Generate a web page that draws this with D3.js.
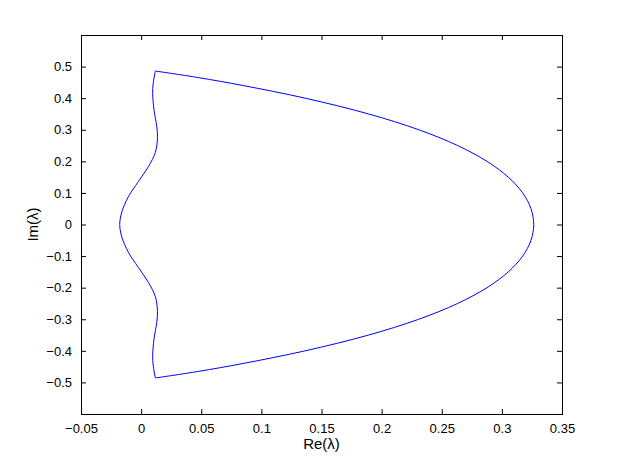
<!DOCTYPE html>
<meta charset="utf-8">
<style>
    html, body { margin: 0; background: #fff; }
    text { font-family: "Liberation Sans", Arial, sans-serif; fill: #000; }
    .tick text { font-size: 13px; }
    .lbl { font-size: 15px; }
    .curve { fill: none; stroke: #0000ff; stroke-width: 1px; }
</style>
<body>
<script src="https://d3js.org/d3.v7.min.js"></script>
<script>
    // right branch: top corner -> rightmost point -> bottom corner
    var rightRe = [0.0118, 0.0478, 0.0848, 0.1364, 0.1892, 0.2309, 0.2632, 0.2876, 0.3053, 0.3173, 0.3242, 0.3265,
                   0.3242, 0.3173, 0.3053, 0.2876, 0.2632, 0.2309, 0.1892, 0.1364, 0.0848, 0.0478, 0.0118];
    var rightIm = [0.486, 0.465, 0.44, 0.40, 0.35, 0.30, 0.25, 0.20, 0.15, 0.10, 0.05, 0,
                   -0.05, -0.10, -0.15, -0.20, -0.25, -0.30, -0.35, -0.40, -0.44, -0.465, -0.486];
    // left branch: bottom corner -> leftmost point -> top corner
    var leftRe = [0.0118, 0.0100, 0.0096, 0.0107, 0.0130, 0.0136, 0.0118, 0.0060, -0.0023, -0.0106, -0.0160, -0.0178,
                  -0.0160, -0.0106, -0.0023, 0.0060, 0.0118, 0.0136, 0.0130, 0.0107, 0.0096, 0.0100, 0.0118];
    var leftIm = [-0.486, -0.445, -0.415, -0.363, -0.310, -0.275, -0.228, -0.183, -0.136, -0.088, -0.040, 0,
                  0.040, 0.088, 0.136, 0.183, 0.228, 0.275, 0.310, 0.363, 0.415, 0.445, 0.486];

    var xTicks = [-0.05, 0, 0.05, 0.1, 0.15, 0.2, 0.25, 0.3, 0.35];
    var yTicks = [-0.5, -0.4, -0.3, -0.2, -0.1, 0, 0.1, 0.2, 0.3, 0.4, 0.5];

    var width = 622, height = 468;
    var mLeft = 81, mRight = 562, mTop = 35, mBottom = 414;

    var x = d3.scaleLinear().domain([-0.05, 0.35]).range([mLeft, mRight]);
    var y = d3.scaleLinear().domain([-0.6, 0.6]).range([mBottom, mTop]);

    var svg = d3.select("body").append("svg")
        .attr("width", width)
        .attr("height", height);

    var fmt = function (d) { return String(Math.round(d * 100) / 100).replace("-", "\u2212"); };

    // axes with inward ticks (MATLAB style)
    svg.append("g")
        .attr("transform", "translate(0," + mBottom + ")")
        .call(d3.axisBottom(x).tickValues(xTicks).tickSize(-5).tickPadding(10).tickFormat(fmt))
        .call(function (g) { g.select(".domain").remove(); });
    svg.append("g")
        .attr("transform", "translate(0," + mTop + ")")
        .call(d3.axisTop(x).tickValues(xTicks).tickSize(-5).tickFormat(""))
        .call(function (g) { g.select(".domain").remove(); });
    svg.append("g")
        .attr("transform", "translate(" + mLeft + ",0)")
        .call(d3.axisLeft(y).tickValues(yTicks).tickSize(-5).tickPadding(9).tickFormat(fmt))
        .call(function (g) { g.select(".domain").remove(); });
    svg.append("g")
        .attr("transform", "translate(" + mRight + ",0)")
        .call(d3.axisRight(y).tickValues(yTicks).tickSize(-5).tickFormat(""))
        .call(function (g) { g.select(".domain").remove(); });

    svg.selectAll(".tick line").attr("stroke", "#000");
    svg.selectAll("g").attr("font-family", null).attr("font-size", null);

    svg.append("rect")
        .attr("x", mLeft + 0.5).attr("y", mTop + 0.5)
        .attr("width", mRight - mLeft).attr("height", mBottom - mTop)
        .attr("fill", "none").attr("stroke", "#000").attr("stroke-width", 1);

    var line = d3.line()
        .x(function (d) { return x(d[0]); })
        .y(function (d) { return y(d[1]); })
        .curve(d3.curveCatmullRom.alpha(0.5));

    svg.append("path")
        .attr("class", "curve")
        .attr("d", line(d3.zip(rightRe, rightIm)));
    svg.append("path")
        .attr("class", "curve")
        .attr("d", line(d3.zip(leftRe, leftIm)));

    svg.append("text")
        .attr("class", "lbl")
        .attr("x", (mLeft + mRight) / 2)
        .attr("y", 449)
        .attr("text-anchor", "middle")
        .text("Re(λ)");
    svg.append("text")
        .attr("class", "lbl")
        .attr("transform", "translate(38," + ((mTop + mBottom) / 2) + ") rotate(-90)")
        .attr("text-anchor", "middle")
        .text("Im(λ)");
</script>
</body>
</html>
